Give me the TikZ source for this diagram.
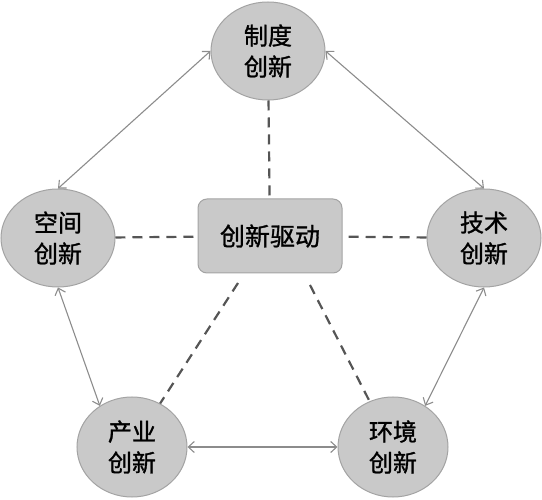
\documentclass[tikz,border=0pt]{standalone}
\usepackage{fontspec}
\newfontfamily\cjk[FakeBold=1.2]{Noto Sans CJK SC}
\usetikzlibrary{arrows.meta,shapes.geometric}
\definecolor{fillg}{HTML}{C9C9C9}
\definecolor{edgeg}{HTML}{A3A3A3}
\definecolor{arrg}{HTML}{8C8C8C}
\definecolor{dashg}{HTML}{555555}
\tikzset{
  bub/.style={ellipse, draw=edgeg, line width=1pt, fill=fillg, minimum width=114pt, minimum height=98pt, inner sep=0pt, align=center, font=\cjk\fontsize{24}{31}\selectfont},
  hub/.style={rectangle, rounded corners=9pt, draw=edgeg, line width=1pt, fill=fillg, minimum width=144pt, minimum height=74pt, font=\cjk\fontsize{25}{30}\selectfont},
  link/.style={draw=arrg, line width=1.1pt, {Straight Barb[length=6pt,width=11pt]}-{Straight Barb[length=6pt,width=11pt]}},
  spoke/.style={draw=dashg, line width=2.2pt, dash pattern=on 10pt off 7pt}
}
\begin{document}
\begin{tikzpicture}[x=1pt,y=-1pt]
\useasboundingbox (0,0) rectangle (542,500);
\node[hub] (hub) at (270,236) {创新驱动};
\node[bub] (top) at (268,51) {制度\\创新};
\node[bub] (left) at (58,238) {空间\\创新};
\node[bub] (right) at (484,238) {技术\\创新};
\node[bub, minimum width=110pt, minimum height=100pt] (bl) at (132,447) {产业\\创新};
\node[bub, minimum width=110pt, minimum height=100pt] (br) at (393,447) {环境\\创新};
% dashed spokes
\path[spoke] (top) -- (hub);
\path[spoke] (left) -- (hub);
\path[spoke] (right) -- (hub);
\coordinate (hbl) at (238,283);
\coordinate (hbr) at (310,285);
\path[spoke] (hbl) -- (bl);
\path[spoke] (hbr) -- (br);
% arrows
\path[link] (top.west) -- (left.north);
\path[link] (top.east) -- (right.north);
\path[link] (left.south) -- (bl.128);
\path[link] (right.south) -- (br.52);
\path[link] (bl.east) -- (br.west);
\end{tikzpicture}
\end{document}
